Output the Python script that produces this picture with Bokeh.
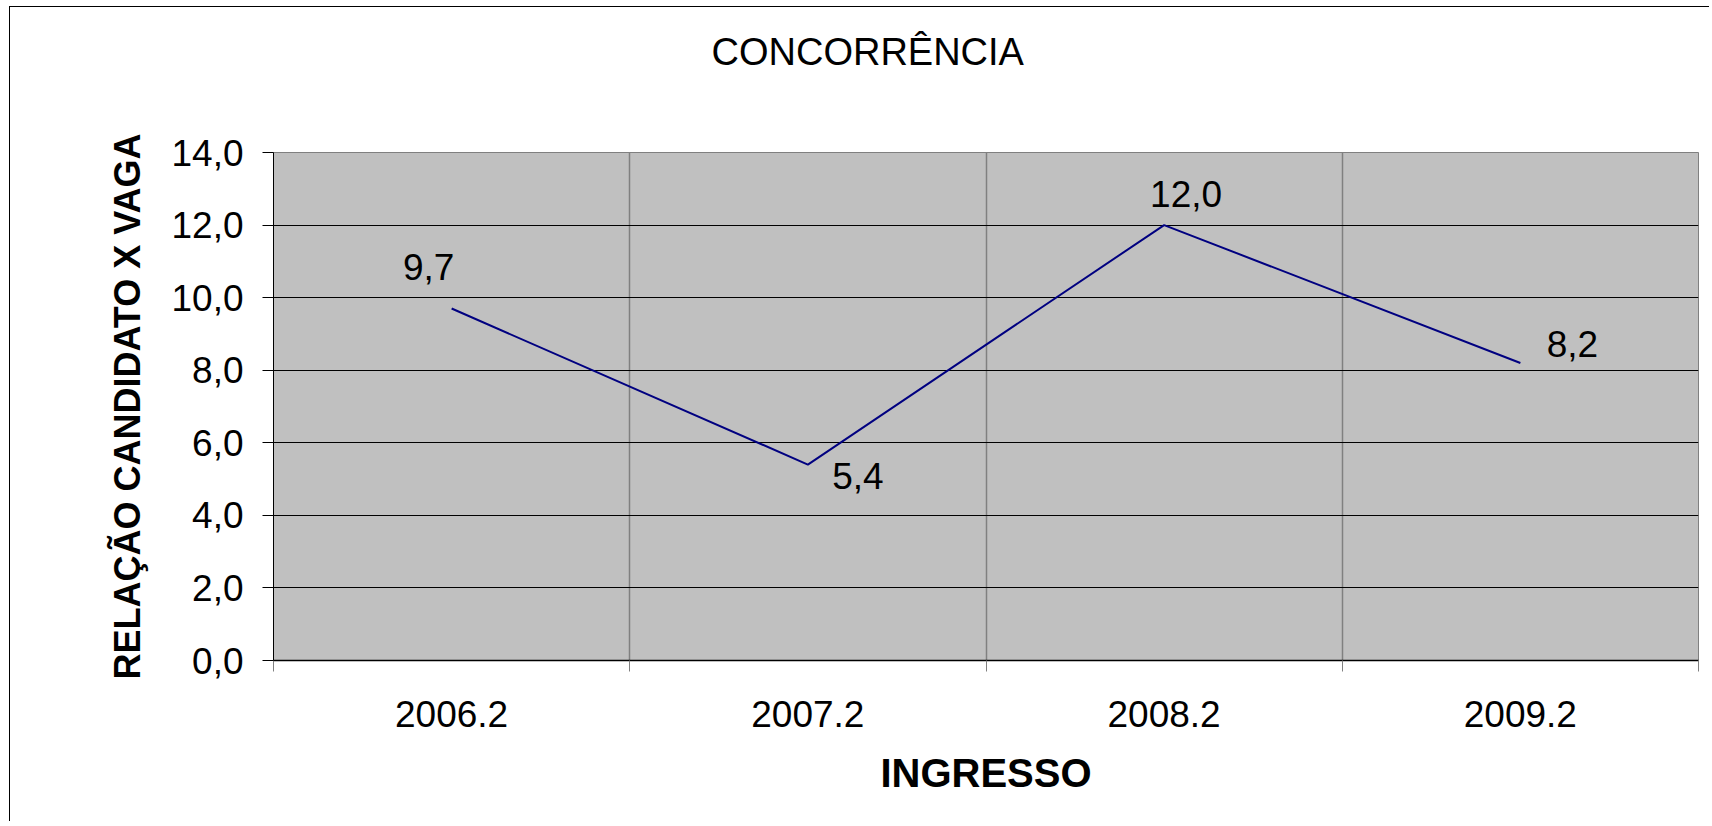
from bokeh.plotting import figure
from bokeh.models import ColumnDataSource, FixedTicker, Range1d, Title
from bokeh.core.properties import value
from bokeh.embed import file_html
from bokeh.resources import INLINE

# ---- data ----
categories = ["2006.2", "2007.2", "2008.2", "2009.2"]
values = [9.7, 5.4, 12.0, 8.2]
y_ticks = [0, 2, 4, 6, 8, 10, 12, 14]
title_text = "CONCORRÊNCIA"

# label placement (screen px, styling only)
label_dx = [-23, 50, 22, 52]
label_dy = [-42, 11, -31, -19]

FONT = "Liberation Sans"
Y_MAX = 14

centers = [i + 0.5 for i in range(len(categories))]
boundaries = list(range(len(categories) + 1))
value_labels = [f"{v:.1f}".replace(".", ",") for v in values]

p = figure(width=1700, height=815, title=None,
           x_range=Range1d(0, len(categories)), y_range=Range1d(0, Y_MAX),
           output_backend="svg", toolbar_location=None,
           min_border_left=263, min_border_right=12,
           min_border_top=145, min_border_bottom=162,
           background_fill_color="#C0C0C0", border_fill_color="white",
           outline_line_color="#808080", outline_line_width=1)

p.styles = {"border-left": "1px solid #000000", "border-top": "1px solid #000000",
            "margin-left": "9px", "margin-top": "6px"}

# spacer (white text on white) next to the frame, then the title outermost
spacer = Title(text=".", text_font=FONT, text_font_size="2px",
               text_color="white", standoff=70)
p.add_layout(spacer, "above")
main_title = Title(text=title_text, align="left", offset=438,
                   vertical_align="top", standoff=10,
                   text_font=FONT, text_font_size="38px",
                   text_font_style="normal", text_color="black")
p.add_layout(main_title, "above")

# line
src = ColumnDataSource(dict(x=centers, y=values, text=value_labels,
                            dx=label_dx, dy=label_dy))
p.line("x", "y", source=src, line_color="#000080", line_width=2)
p.text(x="x", y="y", text="text", x_offset="dx", y_offset="dy", source=src,
       text_align="center", text_baseline="middle",
       text_font=value(FONT), text_font_size="37px", text_color="black")

# x axis
xa = p.xaxis[0]
xa.ticker = FixedTicker(ticks=centers, minor_ticks=boundaries)
xa.major_label_overrides = {c: cat for c, cat in zip(centers, categories)}
xa.major_tick_line_color = None
xa.major_tick_out = 0
xa.major_tick_in = 0
xa.minor_tick_line_color = "#808080"
xa.minor_tick_out = 11
xa.minor_tick_in = 0
xa.axis_line_color = "black"
xa.axis_line_width = 1.5
xa.major_label_standoff = 29
xa.major_label_text_font = FONT
xa.major_label_text_font_size = "37px"
xa.major_label_text_color = "black"
xa.axis_label = "INGRESSO"
xa.axis_label_text_font = FONT
xa.axis_label_text_font_size = "40px"
xa.axis_label_text_font_style = "bold"
xa.axis_label_text_color = "black"
xa.axis_label_standoff = 21

# y axis
ya = p.yaxis[0]
ya.ticker = FixedTicker(ticks=y_ticks)
ya.major_label_overrides = {t: f"{t:.1f}".replace(".", ",") for t in y_ticks}
ya.major_tick_line_color = "black"
ya.major_tick_out = 11
ya.major_tick_in = 0
ya.minor_tick_line_color = None
ya.axis_line_color = "black"
ya.axis_line_width = 1
ya.major_label_standoff = 19
ya.major_label_text_font = FONT
ya.major_label_text_font_size = "37px"
ya.major_label_text_color = "black"
ya.axis_label = "RELAÇÃO CANDIDATO X VAGA"
ya.axis_label_text_font = FONT
ya.axis_label_text_font_size = "36px"
ya.axis_label_text_font_style = "bold"
ya.axis_label_text_color = "black"
ya.axis_label_standoff = 20

# grids
p.xgrid.ticker = FixedTicker(ticks=boundaries)
p.xgrid.grid_line_color = "#808080"
p.xgrid.grid_line_width = 1.5
p.ygrid.ticker = FixedTicker(ticks=y_ticks)
p.ygrid.grid_line_color = "black"
p.ygrid.grid_line_width = 1

open("out.html", "w").write(file_html(p, INLINE))
